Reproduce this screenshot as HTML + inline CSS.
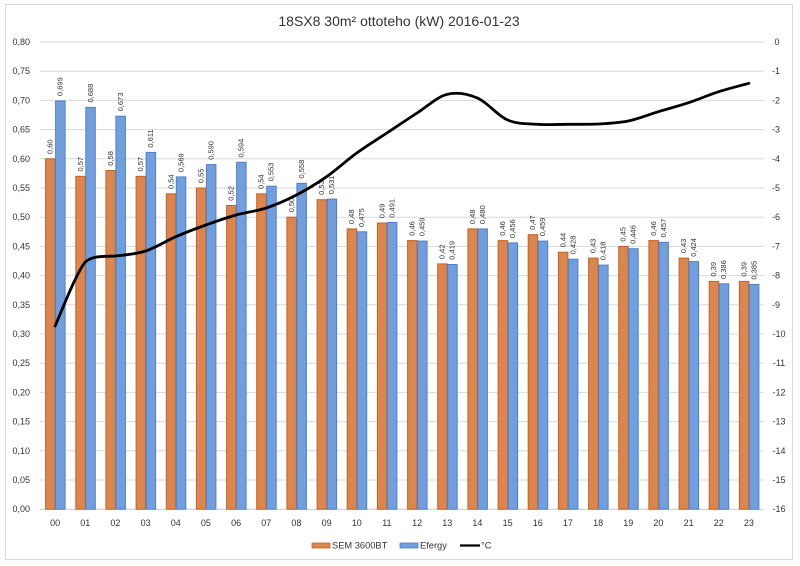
<!DOCTYPE html>
<html><head><meta charset="utf-8"><style>
html,body{margin:0;padding:0;background:#fff;}
svg{display:block;}
text{font-family:"Liberation Sans",sans-serif;fill:#333;}
</style></head><body>
<svg width="800" height="566" viewBox="0 0 800 566" xmlns="http://www.w3.org/2000/svg">
<rect x="0" y="0" width="800" height="566" fill="#fff"/>
<rect x="5.5" y="4.5" width="787" height="555" fill="#fff" stroke="#D9D9D9" stroke-width="1"/>
<text x="399" y="26" font-size="14" text-anchor="middle" fill="#2a2a2a">18SX8 30m² ottoteho (kW) 2016-01-23</text>
<g stroke="#D9D9D9" stroke-width="1">
<line x1="40" x2="764" y1="42" y2="42"/><line x1="40" x2="764" y1="71.2" y2="71.2"/><line x1="40" x2="764" y1="100.4" y2="100.4"/><line x1="40" x2="764" y1="129.6" y2="129.6"/><line x1="40" x2="764" y1="158.8" y2="158.8"/><line x1="40" x2="764" y1="188" y2="188"/><line x1="40" x2="764" y1="217.2" y2="217.2"/><line x1="40" x2="764" y1="246.4" y2="246.4"/><line x1="40" x2="764" y1="275.6" y2="275.6"/><line x1="40" x2="764" y1="304.8" y2="304.8"/><line x1="40" x2="764" y1="334" y2="334"/><line x1="40" x2="764" y1="363.2" y2="363.2"/><line x1="40" x2="764" y1="392.4" y2="392.4"/><line x1="40" x2="764" y1="421.6" y2="421.6"/><line x1="40" x2="764" y1="450.8" y2="450.8"/><line x1="40" x2="764" y1="480" y2="480"/><line x1="40" x2="764" y1="509.2" y2="509.2" stroke="#C8C8C8"/>
</g>
<g font-size="9" text-anchor="end" dominant-baseline="central">
<text x="30" y="42">0,80</text><text x="30" y="71.2">0,75</text><text x="30" y="100.4">0,70</text><text x="30" y="129.6">0,65</text><text x="30" y="158.8">0,60</text><text x="30" y="188">0,55</text><text x="30" y="217.2">0,50</text><text x="30" y="246.4">0,45</text><text x="30" y="275.6">0,40</text><text x="30" y="304.8">0,35</text><text x="30" y="334">0,30</text><text x="30" y="363.2">0,25</text><text x="30" y="392.4">0,20</text><text x="30" y="421.6">0,15</text><text x="30" y="450.8">0,10</text><text x="30" y="480">0,05</text><text x="30" y="509.2">0,00</text>
</g>
<g font-size="9" text-anchor="middle" dominant-baseline="central">
<text x="777" y="42">0</text><text x="776" y="71.2">-1</text><text x="776" y="100.4">-2</text><text x="776" y="129.6">-3</text><text x="776" y="158.8">-4</text><text x="776" y="188">-5</text><text x="776" y="217.2">-6</text><text x="776" y="246.4">-7</text><text x="776" y="275.6">-8</text><text x="776" y="304.8">-9</text><text x="779" y="334">-10</text><text x="779" y="363.2">-11</text><text x="779" y="392.4">-12</text><text x="779" y="421.6">-13</text><text x="779" y="450.8">-14</text><text x="779" y="480">-15</text><text x="779" y="509.2">-16</text>
</g>
<g font-size="9" text-anchor="middle" dominant-baseline="central">
<text x="55.1" y="523">00</text><text x="85.3" y="523">01</text><text x="115.4" y="523">02</text><text x="145.6" y="523">03</text><text x="175.8" y="523">04</text><text x="205.9" y="523">05</text><text x="236.1" y="523">06</text><text x="266.2" y="523">07</text><text x="296.4" y="523">08</text><text x="326.6" y="523">09</text><text x="356.7" y="523">10</text><text x="386.9" y="523">11</text><text x="417.1" y="523">12</text><text x="447.2" y="523">13</text><text x="477.4" y="523">14</text><text x="507.6" y="523">15</text><text x="537.7" y="523">16</text><text x="567.9" y="523">17</text><text x="598.1" y="523">18</text><text x="628.2" y="523">19</text><text x="658.4" y="523">20</text><text x="688.6" y="523">21</text><text x="718.7" y="523">22</text><text x="748.9" y="523">23</text>
</g>
<g fill="#DA8650" stroke="#C9611F" stroke-width="1">
<rect x="45.6" y="158.8" width="9.5" height="350.4"/>
<rect x="75.8" y="176.3" width="9.5" height="332.9"/>
<rect x="105.9" y="170.5" width="9.5" height="338.7"/>
<rect x="136.1" y="176.3" width="9.5" height="332.9"/>
<rect x="166.3" y="193.8" width="9.5" height="315.4"/>
<rect x="196.4" y="188" width="9.5" height="321.2"/>
<rect x="226.6" y="205.5" width="9.5" height="303.7"/>
<rect x="256.7" y="193.8" width="9.5" height="315.4"/>
<rect x="286.9" y="217.2" width="9.5" height="292"/>
<rect x="317.1" y="199.7" width="9.5" height="309.5"/>
<rect x="347.2" y="228.9" width="9.5" height="280.3"/>
<rect x="377.4" y="223" width="9.5" height="286.2"/>
<rect x="407.6" y="240.6" width="9.5" height="268.6"/>
<rect x="437.7" y="263.9" width="9.5" height="245.3"/>
<rect x="467.9" y="228.9" width="9.5" height="280.3"/>
<rect x="498.1" y="240.6" width="9.5" height="268.6"/>
<rect x="528.2" y="234.7" width="9.5" height="274.5"/>
<rect x="558.4" y="252.2" width="9.5" height="257"/>
<rect x="588.6" y="258.1" width="9.5" height="251.1"/>
<rect x="618.7" y="246.4" width="9.5" height="262.8"/>
<rect x="648.9" y="240.6" width="9.5" height="268.6"/>
<rect x="679.1" y="258.1" width="9.5" height="251.1"/>
<rect x="709.2" y="281.4" width="9.5" height="227.8"/>
<rect x="739.4" y="281.4" width="9.5" height="227.8"/>
</g>
<g fill="#729FDB" stroke="#4F7FCC" stroke-width="1">
<rect x="55.6" y="101" width="9.5" height="408.2"/>
<rect x="85.8" y="107.4" width="9.5" height="401.8"/>
<rect x="115.9" y="116.2" width="9.5" height="393"/>
<rect x="146.1" y="152.4" width="9.5" height="356.8"/>
<rect x="176.3" y="176.9" width="9.5" height="332.3"/>
<rect x="206.4" y="164.6" width="9.5" height="344.6"/>
<rect x="236.6" y="162.3" width="9.5" height="346.9"/>
<rect x="266.7" y="186.2" width="9.5" height="323"/>
<rect x="296.9" y="183.3" width="9.5" height="325.9"/>
<rect x="327.1" y="199.1" width="9.5" height="310.1"/>
<rect x="357.2" y="231.8" width="9.5" height="277.4"/>
<rect x="387.4" y="222.5" width="9.5" height="286.7"/>
<rect x="417.6" y="241.1" width="9.5" height="268.1"/>
<rect x="447.7" y="264.5" width="9.5" height="244.7"/>
<rect x="477.9" y="228.9" width="9.5" height="280.3"/>
<rect x="508.1" y="242.9" width="9.5" height="266.3"/>
<rect x="538.2" y="241.1" width="9.5" height="268.1"/>
<rect x="568.4" y="259.2" width="9.5" height="250"/>
<rect x="598.6" y="265.1" width="9.5" height="244.1"/>
<rect x="628.7" y="248.7" width="9.5" height="260.5"/>
<rect x="658.9" y="242.3" width="9.5" height="266.9"/>
<rect x="689.1" y="261.6" width="9.5" height="247.6"/>
<rect x="719.2" y="283.8" width="9.5" height="225.4"/>
<rect x="749.4" y="284.4" width="9.5" height="224.8"/>
</g>
<g font-size="7.5" dominant-baseline="central">
<text transform="translate(50.1,154) rotate(-90)">0,60</text>
<text transform="translate(60.1,96) rotate(-90)">0,699</text>
<text transform="translate(80.3,171.5) rotate(-90)">0,57</text>
<text transform="translate(90.3,102.5) rotate(-90)">0,688</text>
<text transform="translate(110.4,165.7) rotate(-90)">0,58</text>
<text transform="translate(120.4,111.4) rotate(-90)">0,673</text>
<text transform="translate(140.6,171.5) rotate(-90)">0,57</text>
<text transform="translate(150.6,147.6) rotate(-90)">0,611</text>
<text transform="translate(170.8,189) rotate(-90)">0,54</text>
<text transform="translate(180.8,172.1) rotate(-90)">0,569</text>
<text transform="translate(200.9,183.2) rotate(-90)">0,55</text>
<text transform="translate(210.9,159.8) rotate(-90)">0,590</text>
<text transform="translate(231.1,200.7) rotate(-90)">0,52</text>
<text transform="translate(241.1,157.5) rotate(-90)">0,594</text>
<text transform="translate(261.2,189) rotate(-90)">0,54</text>
<text transform="translate(271.2,181.4) rotate(-90)">0,553</text>
<text transform="translate(291.4,212.4) rotate(-90)">0,50</text>
<text transform="translate(301.4,178.5) rotate(-90)">0,558</text>
<text transform="translate(321.6,194.9) rotate(-90)">0,53</text>
<text transform="translate(331.6,194.3) rotate(-90)">0,531</text>
<text transform="translate(351.7,224.1) rotate(-90)">0,48</text>
<text transform="translate(361.7,227) rotate(-90)">0,475</text>
<text transform="translate(381.9,218.2) rotate(-90)">0,49</text>
<text transform="translate(391.9,217.7) rotate(-90)">0,491</text>
<text transform="translate(412.1,235.8) rotate(-90)">0,46</text>
<text transform="translate(422.1,236.3) rotate(-90)">0,459</text>
<text transform="translate(442.2,259.1) rotate(-90)">0,42</text>
<text transform="translate(452.2,259.7) rotate(-90)">0,419</text>
<text transform="translate(472.4,224.1) rotate(-90)">0,48</text>
<text transform="translate(482.4,224.1) rotate(-90)">0,480</text>
<text transform="translate(502.6,235.8) rotate(-90)">0,46</text>
<text transform="translate(512.6,238.1) rotate(-90)">0,456</text>
<text transform="translate(532.7,229.9) rotate(-90)">0,47</text>
<text transform="translate(542.7,236.3) rotate(-90)">0,459</text>
<text transform="translate(562.9,247.4) rotate(-90)">0,44</text>
<text transform="translate(572.9,254.4) rotate(-90)">0,428</text>
<text transform="translate(593.1,253.3) rotate(-90)">0,43</text>
<text transform="translate(603.1,260.3) rotate(-90)">0,418</text>
<text transform="translate(623.2,241.6) rotate(-90)">0,45</text>
<text transform="translate(633.2,243.9) rotate(-90)">0,446</text>
<text transform="translate(653.4,235.8) rotate(-90)">0,46</text>
<text transform="translate(663.4,237.5) rotate(-90)">0,457</text>
<text transform="translate(683.6,253.3) rotate(-90)">0,43</text>
<text transform="translate(693.6,256.8) rotate(-90)">0,424</text>
<text transform="translate(713.7,276.6) rotate(-90)">0,39</text>
<text transform="translate(723.7,279) rotate(-90)">0,386</text>
<text transform="translate(743.9,276.6) rotate(-90)">0,39</text>
<text transform="translate(753.9,279.6) rotate(-90)">0,385</text>
</g>
<path d="M55.1,326 C60.1,315 76,273 85.3,262 C92,255.5 104,256.5 115.4,256 C125.5,255 135.5,254.2 145.6,251 C155.7,247.8 165.7,241 175.8,236.7 C185.9,232.4 195.8,228.6 205.9,225 C216,221.4 226,217.8 236.1,215 C246.2,212.2 256.1,211.3 266.2,208 C276.3,204.7 286.3,200.2 296.4,195 C306.5,189.8 316.5,183.7 326.6,176.7 C336.7,169.7 346.6,160.3 356.7,153 C366.8,145.7 376.8,139.7 386.9,133 C397,126.3 407,119.5 417.1,113 C427.2,106.5 437.1,96.8 447.2,94.3 C457.3,91.8 467.3,93.7 477.4,98 C487.5,102.3 497.5,115.6 507.6,120 C517.7,124.4 527.6,123.6 537.7,124.3 C547.8,125 557.8,124.35 567.9,124.3 C578,124.25 588,124.55 598.1,124 C608.2,123.45 618.1,123.05 628.2,121 C638.3,118.95 648.3,114.75 658.4,111.7 C668.5,108.65 678.5,106 688.6,102.7 C698.7,99.4 708.6,94.9 718.7,91.7 C728.8,88.5 743.9,84.7 748.9,83.3" fill="none" stroke="#000" stroke-width="2.8" stroke-linecap="round" stroke-linejoin="round"/>
<rect x="312" y="543" width="18" height="5" fill="#DA8650" stroke="#C9611F" stroke-width="0.8"/>
<text x="332" y="545.5" font-size="9.3" dominant-baseline="central">SEM 3600BT</text>
<rect x="400" y="543" width="18" height="5" fill="#729FDB" stroke="#4F7FCC" stroke-width="0.8"/>
<text x="420" y="545.5" font-size="9.3" dominant-baseline="central">Efergy</text>
<line x1="460" y1="545.5" x2="480" y2="545.5" stroke="#000" stroke-width="2.2"/>
<text x="481" y="545.5" font-size="9.3" dominant-baseline="central">°C</text>
</svg>
</body></html>
